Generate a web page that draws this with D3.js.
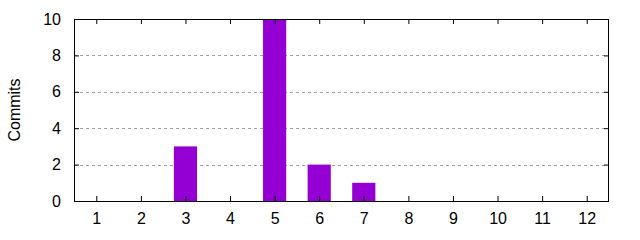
<!DOCTYPE html>
<html>
<head>
<meta charset="utf-8">
<script src="https://cdn.jsdelivr.net/npm/d3@7"></script>
<style>
  body { margin: 0; background: #fff; }
  text { font-family: "Liberation Sans", Arial, sans-serif; font-size: 16px; fill: #000; }
</style>
</head>
<body>
<div id="chart"></div>
<script>
// data
let months = [1, 2, 3, 4, 5, 6, 7, 8, 9, 10, 11, 12];
let commits = [0, 0, 3, 0, 10, 2, 1, 0, 0, 0, 0, 0];
let yTicks = [0, 2, 4, 6, 8, 10];

// set svg width and height
let svgWidth = 640;
let svgHeight = 240;

let margin = { top: 19, right: 31, bottom: 39, left: 74 };
let width = svgWidth - margin.left - margin.right;
let height = svgHeight - margin.top - margin.bottom;

let svg = d3.select("#chart")
  .append("svg")
  .attr("width", svgWidth)
  .attr("height", svgHeight);

let g = svg.append("g")
  .attr("transform", `translate(${margin.left}, ${margin.top})`);

// scales
let x = d3.scaleLinear().domain([0.5, 12.5]).range([0, width]);
let y = d3.scaleLinear().domain([0, 10]).range([height, 0]);

// grid lines
g.selectAll("line.grid")
  .data(yTicks.filter(d => d > 0 && d < 10))
  .enter()
  .append("line")
  .attr("x1", 0)
  .attr("x2", width)
  .attr("y1", d => Math.round(y(d)) + 0.5)
  .attr("y2", d => Math.round(y(d)) + 0.5)
  .attr("stroke", "#a0a0a0")
  .attr("stroke-width", 1)
  .attr("stroke-dasharray", "3,3");

// bars
let barW = 0.52;
g.selectAll("rect.bar")
  .data(months.map((m, i) => ({ m: m, v: commits[i] })).filter(d => d.v > 0))
  .enter()
  .append("rect")
  .attr("x", d => x(d.m - barW / 2))
  .attr("width", d => x(d.m + barW / 2) - x(d.m - barW / 2))
  .attr("y", d => y(d.v))
  .attr("height", d => y(0) - y(d.v))
  .attr("fill", "#9400d3");

// axes
let bottomAxis = d3.axisBottom(x).tickValues(months).tickSize(-5).tickPadding(12).tickFormat(d3.format("d"));
let topAxis = d3.axisTop(x).tickValues(months).tickSize(-5).tickFormat("");
let leftAxis = d3.axisLeft(y).tickValues(yTicks).tickSize(-5).tickPadding(13);
let rightAxis = d3.axisRight(y).tickValues(yTicks).tickSize(-5).tickFormat("");

function styleAxis(sel) {
  sel.select(".domain").remove();
  sel.selectAll(".tick line").attr("stroke", "#000");
  sel.selectAll(".tick text").style("font-family", "Liberation Sans, Arial, sans-serif").style("font-size", "16px").attr("fill", "#000");
}

g.append("g").attr("transform", `translate(0, ${height})`).call(bottomAxis).call(styleAxis);
g.append("g").call(topAxis).call(styleAxis);
g.append("g").call(leftAxis).call(styleAxis);
g.append("g").attr("transform", `translate(${width}, 0)`).call(rightAxis).call(styleAxis);

// frame
g.append("rect")
  .attr("x", 0.5)
  .attr("y", 0.5)
  .attr("width", width - 1)
  .attr("height", height)
  .attr("fill", "none")
  .attr("stroke", "#000")
  .attr("stroke-width", 1);

// y label
g.append("text")
  .attr("transform", "rotate(-90)")
  .attr("x", -height / 2)
  .attr("y", -54)
  .attr("text-anchor", "middle")
  .text("Commits");
</script>
</body>
</html>
